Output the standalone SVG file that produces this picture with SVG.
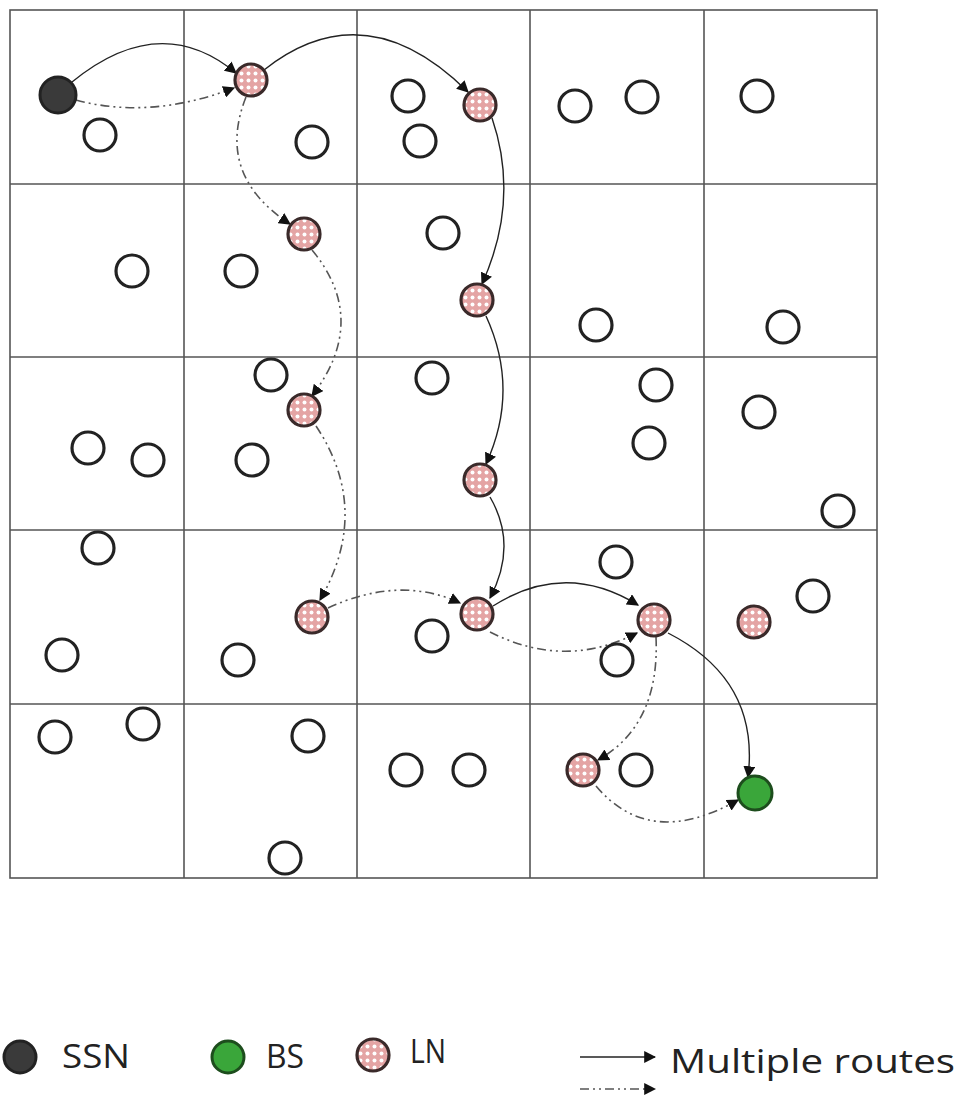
<svg xmlns="http://www.w3.org/2000/svg" width="963" height="1096" viewBox="0 0 963 1096">
<style>
.grid{fill:none;stroke:#555;stroke-width:1.6}
.wn{fill:#fff;stroke:#222;stroke-width:3.2}
.ln{fill:url(#dots);stroke:#3a2a2a;stroke-width:3.2}
.ssn{fill:#3a3a3a;stroke:#222;stroke-width:3}
.bs{fill:#3aa63a;stroke:#1d4d1d;stroke-width:3}
.solid{fill:none;stroke:#222;stroke-width:1.4;marker-end:url(#ah)}
.dash{fill:none;stroke:#555;stroke-width:1.6;stroke-dasharray:9 4 2 4 2 4;marker-end:url(#ah)}
.lbl{font-family:"Open Sans","Liberation Sans",sans-serif;font-size:33px;fill:#222}
</style>
<defs>
<pattern id="dots" width="7" height="7" patternUnits="userSpaceOnUse">
<rect width="7" height="7" fill="#e4a4a4"/>
<circle cx="3.5" cy="3.5" r="2" fill="#fff"/>
</pattern>
<marker id="ah" viewBox="0 0 10 10" refX="9" refY="5" markerWidth="12" markerHeight="12" markerUnits="userSpaceOnUse" orient="auto">
<path d="M0,0 L10,5 L0,10 z" fill="#111"/>
</marker>
</defs>
<g id="grid">
<rect class="grid" x="10" y="10" width="867" height="868"/>
<line class="grid" x1="184" y1="10" x2="184" y2="878"/>
<line class="grid" x1="357" y1="10" x2="357" y2="878"/>
<line class="grid" x1="530" y1="10" x2="530" y2="878"/>
<line class="grid" x1="704" y1="10" x2="704" y2="878"/>
<line class="grid" x1="10" y1="184" x2="877" y2="184"/>
<line class="grid" x1="10" y1="357" x2="877" y2="357"/>
<line class="grid" x1="10" y1="530" x2="877" y2="530"/>
<line class="grid" x1="10" y1="704" x2="877" y2="704"/>
</g>
<g id="connectors">
<path class="solid" d="M72,82 Q160,10 236,73"/>
<path class="solid" d="M264,70 Q365,-10 468,92"/>
<path class="solid" d="M492,118 Q520,200 482,284"/>
<path class="solid" d="M486,316 Q520,390 486,464"/>
<path class="solid" d="M490,497 Q518,545 490,598"/>
<path class="solid" d="M493,606 Q565,560 638,605"/>
<path class="solid" d="M668,633 Q760,680 748,777"/>
<path class="dash" d="M76,100 Q150,120 234,88"/>
<path class="dash" d="M246,97 Q215,175 290,224"/>
<path class="dash" d="M312,250 Q370,320 312,396"/>
<path class="dash" d="M316,426 Q372,510 320,600"/>
<path class="dash" d="M328,608 Q400,575 460,603"/>
<path class="dash" d="M490,632 Q565,670 637,633"/>
<path class="dash" d="M656,637 Q660,725 598,760"/>
<path class="dash" d="M596,786 Q650,850 738,800"/>
</g>
<g id="nodes">
<g id="ssn"><circle class="ssn" cx="58" cy="95" r="18"/></g>
<g id="ln1"><circle class="ln" cx="251" cy="80" r="16"/></g>
<g id="ln2"><circle class="ln" cx="480" cy="105" r="16"/></g>
<g id="ln3"><circle class="ln" cx="304" cy="234" r="16"/></g>
<g id="ln4"><circle class="ln" cx="477" cy="300" r="16"/></g>
<g id="ln5"><circle class="ln" cx="304" cy="410" r="16"/></g>
<g id="ln6"><circle class="ln" cx="480" cy="480" r="16"/></g>
<g id="ln7"><circle class="ln" cx="312" cy="617" r="16"/></g>
<g id="ln8"><circle class="ln" cx="477" cy="614" r="16"/></g>
<g id="ln9"><circle class="ln" cx="654" cy="620" r="16"/></g>
<g id="ln10"><circle class="ln" cx="754" cy="622" r="16"/></g>
<g id="ln11"><circle class="ln" cx="583" cy="770" r="16"/></g>
<g id="bs"><circle class="bs" cx="755" cy="793" r="17"/></g>
<g id="white">
<circle class="wn" cx="100" cy="135" r="16"/>
<circle class="wn" cx="312" cy="142" r="16"/>
<circle class="wn" cx="408" cy="96" r="16"/>
<circle class="wn" cx="420" cy="141" r="16"/>
<circle class="wn" cx="575" cy="106" r="16"/>
<circle class="wn" cx="642" cy="97" r="16"/>
<circle class="wn" cx="757" cy="96" r="16"/>
<circle class="wn" cx="132" cy="271" r="16"/>
<circle class="wn" cx="241" cy="271" r="16"/>
<circle class="wn" cx="443" cy="233" r="16"/>
<circle class="wn" cx="596" cy="325" r="16"/>
<circle class="wn" cx="783" cy="327" r="16"/>
<circle class="wn" cx="271" cy="375" r="16"/>
<circle class="wn" cx="432" cy="378" r="16"/>
<circle class="wn" cx="656" cy="385" r="16"/>
<circle class="wn" cx="759" cy="412" r="16"/>
<circle class="wn" cx="88" cy="448" r="16"/>
<circle class="wn" cx="148" cy="460" r="16"/>
<circle class="wn" cx="252" cy="460" r="16"/>
<circle class="wn" cx="649" cy="443" r="16"/>
<circle class="wn" cx="838" cy="511" r="16"/>
<circle class="wn" cx="98" cy="548" r="16"/>
<circle class="wn" cx="616" cy="562" r="16"/>
<circle class="wn" cx="813" cy="596" r="16"/>
<circle class="wn" cx="62" cy="655" r="16"/>
<circle class="wn" cx="238" cy="660" r="16"/>
<circle class="wn" cx="432" cy="636" r="16"/>
<circle class="wn" cx="617" cy="660" r="16"/>
<circle class="wn" cx="55" cy="737" r="16"/>
<circle class="wn" cx="143" cy="724" r="16"/>
<circle class="wn" cx="308" cy="736" r="16"/>
<circle class="wn" cx="406" cy="770" r="16"/>
<circle class="wn" cx="469" cy="770" r="16"/>
<circle class="wn" cx="636" cy="770" r="16"/>
<circle class="wn" cx="285" cy="858" r="16"/>
</g>
</g>
<g id="legend">
<circle class="ssn" cx="20" cy="1057" r="16"/>
<text class="lbl" x="62" y="1068" textLength="68" lengthAdjust="spacingAndGlyphs">SSN</text>
<circle class="bs" cx="228" cy="1057" r="16"/>
<text class="lbl" x="266" y="1068" textLength="38" lengthAdjust="spacingAndGlyphs">BS</text>
<circle class="ln" cx="373" cy="1055" r="16"/>
<text class="lbl" x="410" y="1063" textLength="36" lengthAdjust="spacingAndGlyphs">LN</text>
<path class="solid" d="M580,1057 L655,1057"/>
<path class="dash" d="M580,1089 L655,1089"/>
<text class="lbl" x="670" y="1073" textLength="285" lengthAdjust="spacingAndGlyphs">Multiple routes</text>
</g>
</svg>
